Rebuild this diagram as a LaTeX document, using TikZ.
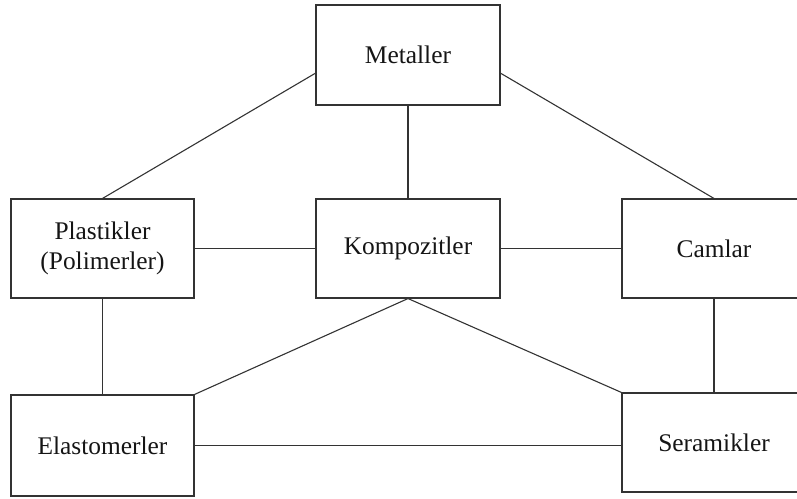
\documentclass[tikz,border=0pt]{standalone}
\usepackage{fontspec}
\setmainfont{Liberation Serif}
\usetikzlibrary{calc}
\definecolor{linec}{HTML}{333333}
\definecolor{textc}{HTML}{151515}
\begin{document}
\begin{tikzpicture}[x=1bp,y=-1bp,
  box/.style={draw=linec,line width=1.1bp,minimum width=184bp,minimum height=100bp,inner sep=0pt,
    font=\fontsize{25.5}{30}\selectfont,text=textc,align=center},
  conn/.style={draw=linec,line width=1.1bp}]
\useasboundingbox (0,0) rectangle (797,499);
\begin{scope}
\clip (0,0) rectangle (797,499);
\node[box] (m) at (408,55) {Metaller};
\node[box,minimum width=183bp,minimum height=99bp] (p) at (102.5,248.5) {Plastikler\\(Polimerler)};
\node[box,minimum height=99bp] (k) at (408,248.5) {Kompozitler};
\node[box,minimum height=99bp] (c) at (714,248.5) {Camlar};
\node[box,minimum width=183bp,minimum height=101bp] (e) at (102.5,445.5) {Elastomerler};
\node[box,minimum height=99bp] (s) at (714,442.5) {Seramikler};
\coordinate (ml) at ($(m.north west)!0.68!(m.south west)$);
\coordinate (mr) at ($(m.north east)!0.68!(m.south east)$);
\draw[conn] (ml) -- (p.north);
\draw[conn] (mr) -- (c.north);
\draw[conn] (m.south) -- (k.north);
\draw[conn] (p.east) -- (k.west);
\draw[conn] (k.east) -- (c.west);
\draw[conn] (p.south) -- (e.north);
\draw[conn] (c.south) -- (s.north);
\draw[conn] (k.south) -- (e.north east);
\draw[conn] (k.south) -- (s.north west);
\draw[conn] (e.east) -- (s.west |- e.east);
\end{scope}
\end{tikzpicture}
\end{document}
